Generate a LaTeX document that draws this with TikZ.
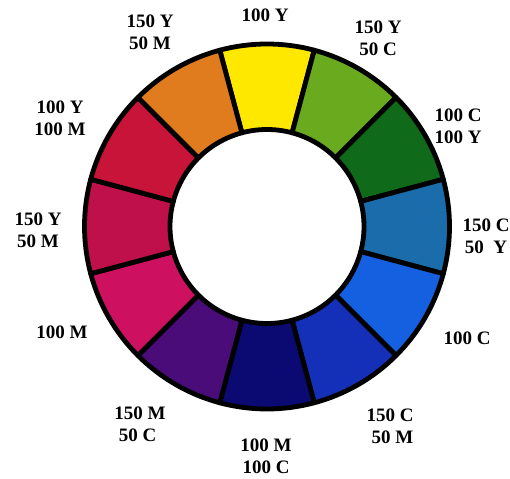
\documentclass[tikz,border=0pt]{standalone}
\usepackage{fontspec}
\setmainfont{Liberation Serif}
\definecolor{WheelY}{HTML}{FFE800}
\definecolor{WheelYG}{HTML}{6AAA1E}
\definecolor{WheelDG}{HTML}{0F6A1A}
\definecolor{WheelTeal}{HTML}{1A6CAA}
\definecolor{WheelB}{HTML}{1460E0}
\definecolor{WheelDB}{HTML}{1530B8}
\definecolor{WheelNavy}{HTML}{0A0A72}
\definecolor{WheelPurple}{HTML}{4A0C78}
\definecolor{WheelMag}{HTML}{CE1060}
\definecolor{WheelCrim}{HTML}{C0104C}
\definecolor{WheelRed}{HTML}{C81438}
\definecolor{WheelOr}{HTML}{E07C1E}

\begin{document}
\begin{tikzpicture}[x=1pt, y=1pt,
    lab/.style={font=\bfseries\fontsize{19}{22}\selectfont, align=center}]
  \useasboundingbox (0,0) rectangle (510,478);
  % colour wheel, twelve segments
  \begin{scope}[shift={(267,251.5)}]
    \foreach \ang/\col in {90/WheelY, 60/WheelYG, 30/WheelDG, 0/WheelTeal,
        -30/WheelB, -60/WheelDB, -90/WheelNavy, -120/WheelPurple,
        -150/WheelMag, 180/WheelCrim, 150/WheelRed, 120/WheelOr}
      \filldraw[fill=\col, line width=4.8pt, line join=round]
        (\ang-15:182.5) arc[start angle=\ang-15, end angle=\ang+15, radius=182.5]
        -- (\ang+15:97) arc[start angle=\ang+15, end angle=\ang-15, radius=97]
        -- cycle;
  \end{scope}
  % labels
  \node[lab] (y100) at (265,463) {100 Y};
  \node[lab] (y150c50) at (378,440) {150 Y\\50 C};
  \node[lab] (c100y100) at (458,352) {100 C\\100 Y};
  \node[lab] (c150y50) at (486,242) {150 C\\50 \ Y};
  \node[lab] (c100) at (467,140) {100 C};
  \node[lab] (c150m50) at (390,52) {150 C\\\ 50 M};
  \node[lab] (m100c100) at (266,22) {100 M\\100 C};
  \node[lab] (m150c50) at (140,54) {150 M\\50 C\ \ };
  \node[lab] (m100) at (62,146) {100 M};
  \node[lab] (y150m50l) at (38,248) {150 Y\\50 M};
  \node[lab] (y100m100) at (60,360) {100 Y\\100 M};
  \node[lab] (y150m50t) at (150,446) {150 Y\\50 M};
\end{tikzpicture}
\end{document}
